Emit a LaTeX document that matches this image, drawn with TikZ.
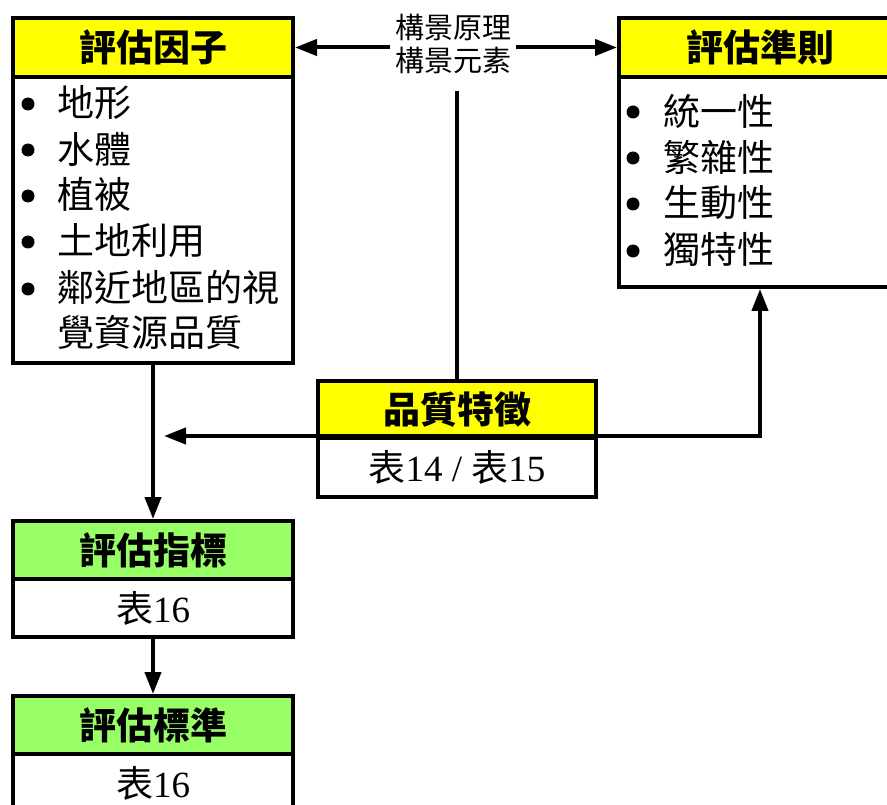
\documentclass[tikz,border=0pt]{standalone}
\usepackage{fontspec}
\setmainfont{Liberation Serif}
\newfontfamily\cjk{Noto Sans CJK TC}
\usetikzlibrary{arrows.meta}
\definecolor{hdryellow}{RGB}{255,255,0}
\definecolor{hdrgreen}{RGB}{153,255,102}
\newcommand\cjktxt[1]{{\cjk #1}}
\begin{document}
\begin{tikzpicture}[x=1pt,y=-1pt,
  boxbase/.style={draw=black, line width=4pt, inner sep=0pt, anchor=north west},
  hdr/.style={boxbase, font=\cjk\bfseries\fontsize{37}{40}\selectfont},
  bodybox/.style={boxbase, fill=white, font=\fontsize{37}{40}\selectfont},
  item/.style={anchor=base west, inner sep=0pt, align=left, font=\cjk\fontsize{37}{46}\selectfont},
  lbltext/.style={align=center, inner xsep=5pt, inner ysep=2pt, font=\cjk\fontsize{29}{32.5}\selectfont},
  arr/.style={-{Triangle[length=22pt,width=16pt]}, line width=4pt},
  dbl/.style={{Triangle[length=22pt,width=16pt]}-{Triangle[length=22pt,width=16pt]}, line width=4pt},
  plain/.style={line width=4pt},
  bulletdot/.style={fill=black}
]
\clip (0,0) rectangle (887,805);
\fill[white] (0,0) rectangle (887,805);

% 評估因子
\node[hdr, fill=hdryellow, minimum width=280pt, minimum height=59pt] (f1h) at (11,16) {評估因子};
\node[bodybox, minimum width=280pt, minimum height=286pt] (f1b) at (11,75) {};
\node[item] (a1) at (57,117) {地形};
\node[item] (a2) at (57,164) {水體};
\node[item] (a3) at (57,209) {植被};
\node[item] (a4) at (57,255) {土地利用};
\node[item] (a5) at (57,347) {鄰近地區的視\\覺資源品質};
\foreach \yy in {104,150,196,242,289} \fill[bulletdot] (28,\yy) circle (6.5pt);

% 評估準則
\node[hdr, fill=hdryellow, minimum width=282pt, minimum height=59pt] (f2h) at (617,16) {評估準則};
\node[bodybox, minimum width=282pt, minimum height=210pt] (f2b) at (617,75) {};
\node[item] (b1) at (663,126) {統一性};
\node[item] (b2) at (663,171.5) {繁雜性};
\node[item] (b3) at (663,217) {生動性};
\node[item] (b4) at (663,264) {獨特性};
\foreach \yy in {112,158,204,251} \fill[bulletdot] (633,\yy) circle (6.5pt);

% label
\node[lbltext] (lbl) at (453,44) {構景原理\\構景元素};

% 品質特徵
\node[hdr, fill=hdryellow, minimum width=278pt, minimum height=57pt] (qh) at (316,379) {品質特徵};
\node[bodybox, minimum width=278pt, minimum height=59pt] (qb) at (316,436) {\cjktxt{表}14 / \cjktxt{表}15};

% 評估指標
\node[hdr, fill=hdrgreen, minimum width=280pt, minimum height=58pt] (ih) at (11,519) {評估指標};
\node[bodybox, minimum width=280pt, minimum height=58pt] (ib) at (11,577) {\cjktxt{表}16};

% 評估標準
\node[hdr, fill=hdrgreen, minimum width=280pt, minimum height=58pt] (sh) at (11,694) {評估標準};
\node[bodybox, minimum width=280pt, minimum height=58pt] (sb) at (11,752) {\cjktxt{表}16};

% connectors
\draw[arr] (lbl.west |- f1h.east) -- (f1h.east);
\draw[arr] (lbl.east |- f2h.west) -- (f2h.west);
\draw[plain, shorten >=15pt] (qh.north) -- (qh.north |- lbl.south);
\coordinate (tipL) at (164,436);
\draw[dbl] (tipL) -- (f2b.south |- tipL) -- (f2b.south);
\draw[arr] (f1b.south) -- (ih.north);
\draw[arr] (ib.south) -- (sh.north);
\end{tikzpicture}
\end{document}
